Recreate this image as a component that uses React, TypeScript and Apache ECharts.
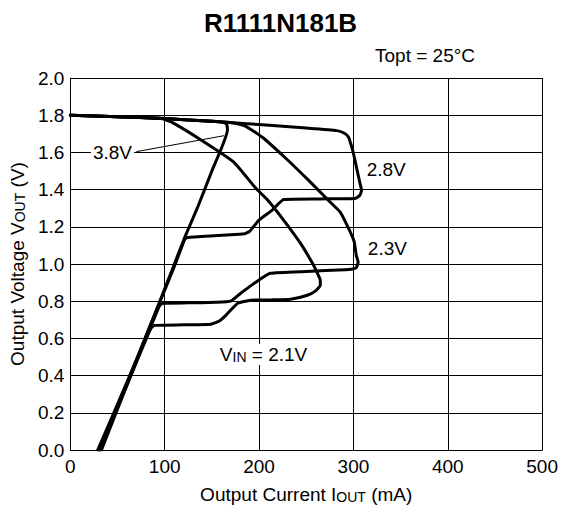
import React, { useEffect, useRef } from "react";
import * as echarts from "echarts";

const FONT = "'Liberation Sans', Arial, Helvetica, sans-serif";

const titleText = "R1111N181B";
const conditionText = "Topt = 25°C";
const xTicks = { min: 0, max: 500, interval: 100 };
const yTicks = { min: 0, max: 2.0, interval: 0.2 };

// [Iout (mA), Vout (V)]
const curve38: [number, number][] = [
  [0, 1.8], [50, 1.792], [100, 1.782], [150, 1.767], [161, 1.762], [165.5, 1.752],
  [166.5, 1.72], [150, 1.5], [134.5, 1.3], [121, 1.14], [110.3, 1.0], [94.9, 0.8],
  [79.4, 0.6], [63.9, 0.4], [48.5, 0.2], [33, 0],
];
const curve28: [number, number][] = [
  [0, 1.8], [50, 1.792], [100, 1.782], [150, 1.767], [200, 1.75], [250, 1.731],
  [282.5, 1.717], [290, 1.704], [294.7, 1.683], [297.6, 1.64], [300, 1.595],
  [303.9, 1.505], [307, 1.433], [308.6, 1.397], [307, 1.371], [301.8, 1.352],
  [264, 1.35], [226.2, 1.347], [214, 1.29], [199.9, 1.236], [190, 1.175], [185, 1.163],
  [155, 1.153], [124, 1.143], [121, 1.13], [111.3, 1.0], [95.2, 0.8], [79.1, 0.6],
  [63.1, 0.4], [47, 0.2], [31, 0],
];
const curve23: [number, number][] = [
  [0, 1.8], [50, 1.792], [100, 1.782], [150, 1.767], [175, 1.757], [186, 1.74],
  [203.8, 1.68], [228, 1.57], [252.3, 1.451], [273.4, 1.343], [286, 1.279],
  [295, 1.19], [300.8, 1.12], [303, 1.047], [305, 1.01], [303, 0.98], [298, 0.972],
  [291.3, 0.969], [250, 0.96], [212.2, 0.95], [199.6, 0.913], [180.6, 0.843], [170, 0.8],
  [154.3, 0.794], [125, 0.791], [98, 0.789], [94.5, 0.775], [80.2, 0.6], [63.1, 0.4],
  [46.1, 0.2], [29, 0],
];
const curve21: [number, number][] = [
  [0, 1.8], [50, 1.792], [95, 1.783], [106.8, 1.764], [138.5, 1.667], [173.2, 1.548],
  [196.4, 1.408], [209.1, 1.344], [226, 1.236], [243.8, 1.112], [256.5, 1.005],
  [261.8, 0.951], [264.9, 0.913], [264.9, 0.886], [259.6, 0.854], [251.2, 0.832],
  [233.3, 0.81], [212, 0.807], [191.2, 0.805], [177.4, 0.789], [164.8, 0.724],
  [157.4, 0.692], [149, 0.676], [120, 0.673], [89, 0.67], [85.5, 0.655],
  [80.6, 0.6], [64.2, 0.4], [47.9, 0.2], [31, 0],
];

const seriesNames = ["3.8V", "2.8V", "2.3V", "2.1V"];

const leader38: [number, number][] = [[70, 1.604], [163, 1.69]];

const labelTexts = ["3.8V", "2.8V", "2.3V", "V{s|IN} = 2.1V"];
const labelAnchors: [number, number][] = [[44.7, 1.6], [334.8, 1.51], [336, 1.085], [204.8, 0.514]];

export default function App() {
  const ref = useRef<HTMLDivElement>(null);
  useEffect(() => {
    if (!ref.current) return;
    const chart = echarts.init(ref.current, null, { renderer: "svg" });
    const curves = [curve38, curve28, curve23, curve21];
    const lineSeries = curves.map((d, i) => ({
      name: seriesNames[i],
      type: "line",
      data: d,
      showSymbol: false,
      symbol: "none",
      smooth: 0.15,
      lineStyle: { color: "#000", width: 3, join: "round", cap: "round" },
      z: 3,
    }));
    const subRich = {
      base: { fontFamily: FONT, fontSize: 19, color: "#000", verticalAlign: "bottom" },
      s: { fontFamily: FONT, fontSize: 14, color: "#000", verticalAlign: "bottom" },
    };
    const option: any = {
      animation: false,
      backgroundColor: "#fff",
      title: {
        text: titleText,
        left: "center",
        top: 5,
        textStyle: { fontFamily: FONT, fontSize: 26, fontWeight: "bold", color: "#000" },
      },
      grid: { left: 69, right: 18, top: 78, bottom: 62 },
      xAxis: {
        type: "value",
        min: xTicks.min,
        max: xTicks.max,
        interval: xTicks.interval,
        name: "{base|Output Current I}{s|OUT}{base| (mA)}",
        nameLocation: "middle",
        nameGap: 35,
        nameTextStyle: { fontFamily: FONT, fontSize: 19, color: "#000", rich: subRich },
        axisLine: { show: true, lineStyle: { color: "#000", width: 1 } },
        axisTick: { show: false },
        axisLabel: { margin: 7, fontFamily: FONT, fontSize: 19, color: "#000" },
        splitLine: { show: true, lineStyle: { color: "#000", width: 1 } },
      },
      yAxis: {
        type: "value",
        min: yTicks.min,
        max: yTicks.max,
        interval: yTicks.interval,
        name: "{base|Output Voltage V}{s|OUT}{base| (V)}",
        nameLocation: "middle",
        nameRotate: 90,
        nameGap: 34,
        nameTextStyle: { fontFamily: FONT, fontSize: 19, color: "#000", rich: subRich },
        axisLine: { show: true, lineStyle: { color: "#000", width: 1 } },
        axisTick: { show: false },
        axisLabel: {
          margin: 6, fontFamily: FONT, fontSize: 19, color: "#000",
          formatter: (v: number) => v.toFixed(1),
        },
        splitLine: { show: true, lineStyle: { color: "#000", width: 1 } },
      },
      series: [
        {
          type: "line",
          data: leader38,
          showSymbol: false,
          symbol: "none",
          lineStyle: { color: "#000", width: 1 },
          z: 2,
        },
        ...lineSeries,
      ],
    };
    chart.setOption(option);

    const labelGraphics = labelAnchors.map((p, i) => {
      const px = chart.convertToPixel({ gridIndex: 0 }, p) as number[];
      return {
        type: "text",
        id: "lbl" + i,
        x: px[0],
        y: px[1],
        z: 10,
        style: {
          text: i === 3 ? "{b|V}{s|IN}{b| = 2.1V}" : labelTexts[i],
          fontFamily: FONT,
          fontSize: 19,
          fill: "#000",
          align: "center",
          verticalAlign: "middle",
          backgroundColor: "#fff",
          padding: [1, 2],
          rich: {
            b: { fontFamily: FONT, fontSize: 19, fill: "#000", verticalAlign: "bottom" },
            s: { fontFamily: FONT, fontSize: 14, fill: "#000", verticalAlign: "bottom" },
          },
        },
      };
    });
    chart.setOption({
      graphic: [
        {
          type: "text",
          id: "cond",
          left: 375,
          top: 46,
          style: { text: conditionText, fontFamily: FONT, fontSize: 19, fill: "#000" },
        },
        ...labelGraphics,
      ],
    });
    return () => chart.dispose();
  }, []);
  return (
    <div
      ref={ref}
      style={{ position: "fixed", left: 0, top: 0, width: 561, height: 512, background: "#fff" }}
    />
  );
}
